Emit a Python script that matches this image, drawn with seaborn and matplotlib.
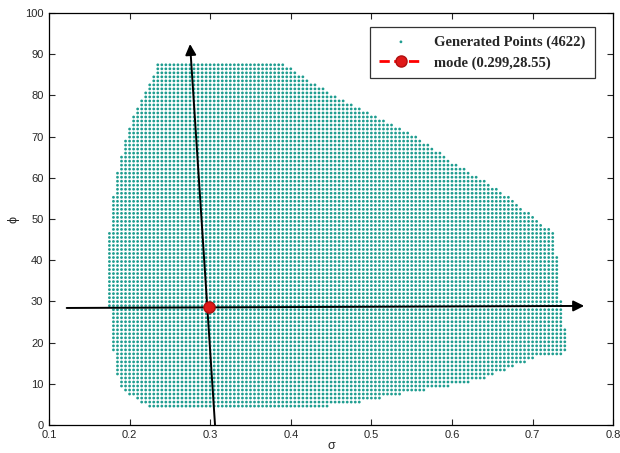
import numpy as np
import pandas as pd
import seaborn as sns
import matplotlib.pyplot as plt
from matplotlib.path import Path

# outline of the generated point cloud (sigma, phi)
bnd_sigma = [0.243, 0.216, 0.196, 0.186, 0.180, 0.176, 0.173, 0.173, 0.176, 0.182,
             0.192, 0.203, 0.225, 0.235, 0.393, 0.449, 0.482, 0.546, 0.598, 0.664,
             0.706, 0.728, 0.734, 0.740, 0.745, 0.706, 0.666, 0.635, 0.608, 0.569,
             0.523, 0.473, 0.398]
bnd_phi = [3.6, 5, 8, 10, 18, 26, 34, 42, 50, 59,
           67, 75, 83, 87.5, 87.5, 80.6, 77.3, 71.2, 64.3, 56.3,
           49.8, 46.5, 32, 24, 17.5, 16.5, 13.3, 10.9, 9.7, 8.5,
           7, 5, 3.6]
step_sigma = 0.005
step_phi = 0.975

mode_sigma = [0.299]
mode_phi = [28.55]

# principal directions drawn through the mode (start, end)
arrow_v = [(0.306, 0.0), (0.275, 92.5)]
arrow_h = [(0.122, 28.4), (0.764, 28.9)]

xticks = [0.1, 0.2, 0.3, 0.4, 0.5, 0.6, 0.7, 0.8]
yticks = [0, 10, 20, 30, 40, 50, 60, 70, 80, 90, 100]

# regular grid of points inside the outline
gs, gp = np.meshgrid(np.arange(0.170, 0.750, step_sigma), np.arange(3.6, 88.0, step_phi))
pts = np.column_stack([gs.ravel(), gp.ravel()])
outline = Path(np.column_stack([bnd_sigma, bnd_phi]))
# scale phi so the containment test isn't skewed
scale = np.array([1.0, 0.01])
inside = Path(outline.vertices * scale).contains_points(pts * scale, radius=1e-4)
df = pd.DataFrame(pts[inside], columns=['sigma', 'phi'])

sns.set_style('ticks')
plt.rcParams['font.family'] = ['Liberation Sans', 'DejaVu Sans']

fig = plt.figure(figsize=(6.2, 4.53), dpi=100)
ax = fig.add_axes([0.079, 0.062, 0.910, 0.909])

sns.scatterplot(data=df, x='sigma', y='phi', ax=ax, s=4, color='#1f9d90',
                edgecolor='none', marker='o', label='Generated Points (4622)')
ax.plot(mode_sigma, mode_phi, 'r--o', lw=2, ms=8, mec='#b01010', mfc='#e01818',
        label='mode (0.299,28.55)', zorder=5)

for (x0, y0), (x1, y1) in [arrow_v, arrow_h]:
    ax.annotate('', xy=(x1, y1), xytext=(x0, y0),
                arrowprops=dict(arrowstyle='-|>', color='k', lw=1.4, mutation_scale=16,
                                shrinkA=0, shrinkB=0), zorder=4)

ax.set_xlim(0.1, 0.8)
ax.set_ylim(0, 100)
ax.set_xticks(xticks)
ax.set_yticks(yticks)
ax.set_xticklabels([f'{t:g}' for t in xticks])
ax.tick_params(direction='in', top=True, right=True, labelsize=8, length=4, width=0.8)
ax.tick_params(axis='x', pad=4)
ax.tick_params(axis='y', pad=4)
for sp in ax.spines.values():
    sp.set_visible(True)
    sp.set_linewidth(0.9)
    sp.set_color('k')
ax.set_xlabel('σ', fontsize=9, labelpad=0)
ax.set_ylabel('ϕ', fontsize=9, labelpad=4)

leg = ax.legend(loc='upper right', bbox_to_anchor=(0.98, 0.985), frameon=True, fancybox=False,
                edgecolor='k', prop={'family': 'Liberation Serif', 'weight': 'bold', 'size': 10.5},
                handlelength=3.0, borderpad=0.6, labelspacing=0.5, markerscale=1.0)
leg.get_frame().set_linewidth(0.9)

fig.savefig('out.png', dpi=100)
